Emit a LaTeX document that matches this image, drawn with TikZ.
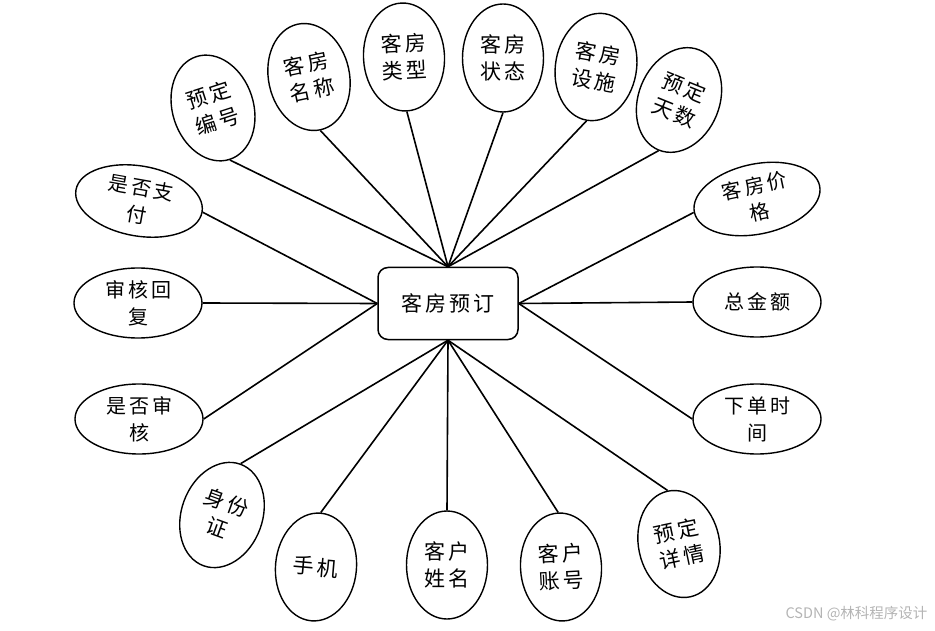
\documentclass[tikz,border=0pt]{standalone}
\usepackage{fontspec}
\newfontfamily\cjk[LetterSpace=15]{Noto Sans CJK SC}
\newfontfamily\cjkplain{Noto Sans CJK SC}
\usetikzlibrary{shapes.geometric}
\definecolor{MarkGray}{HTML}{B4B4B4}

\begin{document}
\begin{tikzpicture}[
    x=1pt,y=-1pt,
    entity/.style={draw,line width=1.5pt,rounded corners=10pt,minimum width=140pt,minimum height=72pt,font=\cjk\fontsize{21}{26}\selectfont},
    attrv/.style={ellipse,draw,line width=1.4pt,minimum width=81pt,minimum height=108pt,inner sep=0pt,align=center,font=\cjk\fontsize{21}{27}\selectfont},
    attrh/.style={ellipse,draw,line width=1.4pt,minimum width=128pt,minimum height=70pt,inner sep=0pt,align=center,font=\cjk\fontsize{20}{27}\selectfont},
    link/.style={line width=1.6pt}
  ]
  \useasboundingbox (0,0) rectangle (935,631);
  % centre entity
  \node[entity] (booking) at (448,303.5) {客房预订};
  % top attributes
  \node[attrv,rotate=18] (bookno) at (213,108) {预定\\编号};
  \node[attrv,rotate=12] (roomname) at (309,77) {客房\\名称};
  \node[attrv,rotate=3] (roomtype) at (404,57) {客房\\类型};
  \node[attrv] (roomstate) at (503,58) {客房\\状态};
  \node[attrv,rotate=-10] (roomfac) at (596,67) {客房\\设施};
  \node[attrv,rotate=-22] (days) at (679,100) {预定\\天数};
  % right attributes
  \node[attrh,rotate=12] (price) at (757,199) {客房价\\格};
  \node[attrh] (total) at (757,302) {总金额};
  \node[attrh] (ordertime) at (757,419) {下单时\\间};
  % bottom attributes
  \node[attrv,rotate=12] (detail) at (679,544) {预定\\详情};
  \node[attrv,rotate=3] (account) at (561,567) {客户\\账号};
  \node[attrv] (custname) at (447,565) {客户\\姓名};
  \node[attrv,rotate=-5] (phone) at (316,567) {手机};
  \node[attrv,rotate=-20] (idcard) at (222,515) {身份\\证};
  % left attributes
  \node[attrh] (checked) at (139,419) {是否审\\核};
  \node[attrh] (reply) at (138,303) {审核回\\复};
  \node[attrh,rotate=-10] (paid) at (139,201) {是否支\\付};
  % links
  \foreach \a in {bookno,roomname,roomtype,roomstate,roomfac,days}
    \draw[link] (\a.south) -- (booking.north);
  \foreach \a in {price,total,ordertime}
    \draw[link] (\a.west) -- (booking.east);
  \foreach \a in {detail,account,custname,phone,idcard}
    \draw[link] (\a.north) -- (booking.south);
  \foreach \a in {checked,reply,paid}
    \draw[link] (\a.east) -- (booking.west);
  \node[text=MarkGray,font=\cjkplain\fontsize{14.5}{16}\selectfont,anchor=east] (mark) at (931,614) {CSDN @林科程序设计};
\end{tikzpicture}
\end{document}
